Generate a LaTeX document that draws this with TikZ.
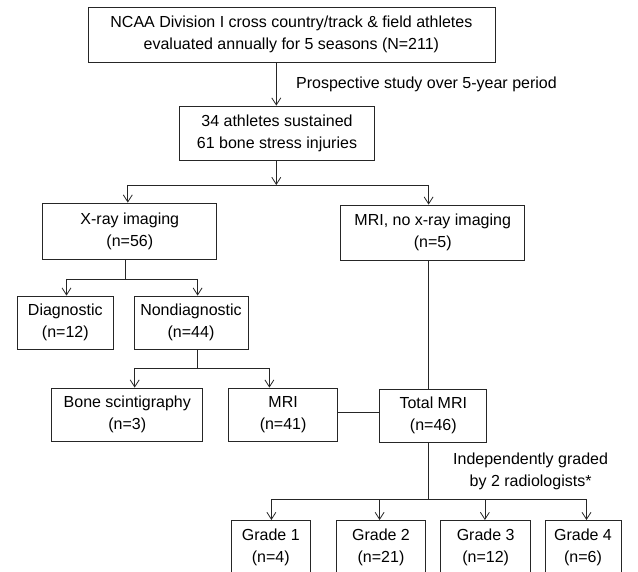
\documentclass[tikz,border=0pt]{standalone}
\usepackage{fontspec}
\setmainfont{Liberation Sans}
\usetikzlibrary{arrows.meta, positioning}
\tikzset{
  box/.style  = {draw=black!85, line width=0.8pt, align=center, inner sep=0pt,
                 font=\fontsize{16}{22}\selectfont, minimum height=54pt},
  flow/.style = {-{Straight Barb[length=7pt, width=9pt]}, line width=0.8pt, black!85},
  link/.style = {line width=0.8pt, black!85},
  note/.style = {font=\fontsize{16}{22}\selectfont, align=center, inner sep=0pt},
}

\begin{document}
\begin{tikzpicture}[x=1pt, y=-1pt]

\clip (0,0) rectangle (638,572);

% boxes
\node[box, minimum width=407pt, minimum height=55pt] (cohort) at (291.4,34.8)
  {NCAA Division I cross country/track \& field athletes\\evaluated annually for 5 seasons (N=211)};
\node[box, minimum width=195pt] (bsi) at (277,133)
  {34 athletes sustained\\61 bone stress injuries};
\node[box, minimum width=174pt, minimum height=56pt] (xray) at (129.8,231)
  {X-ray imaging\\(n=56)};
\node[box, minimum width=184pt, minimum height=55pt] (mrionly) at (432.7,232.5)
  {MRI, no x-ray imaging\\(n=5)};
\node[box, minimum width=95.5pt, minimum height=53pt] (diag) at (65.3,322.5)
  {Diagnostic\\(n=12)};
\node[box, minimum width=114pt, minimum height=53pt] (nondiag) at (191,322.5)
  {Nondiagnostic\\(n=44)};
\node[box, minimum width=151pt, minimum height=53pt] (bone) at (127.3,414.5)
  {Bone scintigraphy\\(n=3)};
\node[box, minimum width=109pt, minimum height=53pt] (mri) at (283.1,414.5)
  {MRI\\(n=41)};
\node[box, minimum width=107pt, minimum height=53pt] (totmri) at (433.3,415.5)
  {Total MRI\\(n=46)};
\node[box, minimum width=79pt] (g1) at (270.8,547) {Grade 1\\(n=4)};
\node[box, minimum width=89pt] (g2) at (381,547)   {Grade 2\\(n=21)};
\node[box, minimum width=90pt] (g3) at (485.7,547) {Grade 3\\(n=12)};
\node[box, minimum width=76pt] (g4) at (583,547)   {Grade 4\\(n=6)};

% labels
\node[note, anchor=west] (prosp) at (296,84) {Prospective study over 5-year period};
\node[note] (graded) at (530.6,471) {Independently graded\\by 2 radiologists*};

% split points
\coordinate (sA) at (276.3,185);
\coordinate (sAl) at (127.8,185);
\coordinate (sAr) at (428.6,185);
\coordinate (sB) at (125.3,279);
\coordinate (sBl) at (66.5,279);
\coordinate (sBr) at (197.6,279);
\coordinate (sC) at (197.6,368);
\coordinate (sCl) at (134.7,368);
\coordinate (sCr) at (269.4,368);
\coordinate (sD) at (428.6,499);
\coordinate (sDl) at (271.4,499);
\coordinate (sDr) at (586.5,499);

% connectors
\draw[flow] (sA |- cohort.south) -- (sA |- bsi.north);
\draw[flow] (sA |- bsi.south) -- (sA);
\draw[link] (sAl) -- (sAr);
\foreach \s/\n in {sAl/xray, sAr/mrionly}
  \draw[flow] (\s) -- (\s |- \n.north);

\draw[link] (sB |- xray.south) -- (sB);
\draw[link] (sBl) -- (sBr);
\foreach \s/\n in {sBl/diag, sBr/nondiag}
  \draw[flow] (\s) -- (\s |- \n.north);

\draw[link] (sC |- nondiag.south) -- (sC);
\draw[link] (sCl) -- (sCr);
\foreach \s/\n in {sCl/bone, sCr/mri}
  \draw[flow] (\s) -- (\s |- \n.north);

\draw[link] (sAr |- mrionly.south) -- (sAr |- totmri.north);
\draw[link] (mri.east |- 0,412) -- (totmri.west |- 0,412);

\draw[link] (sD |- totmri.south) -- (sD);
\draw[link] (sDl) -- (sDr);
\foreach \x/\n in {271.4/g1, 379.6/g2, 484.9/g3, 586.5/g4}
  \draw[flow] (\x,499) -- (\x,520);

\end{tikzpicture}
\end{document}
